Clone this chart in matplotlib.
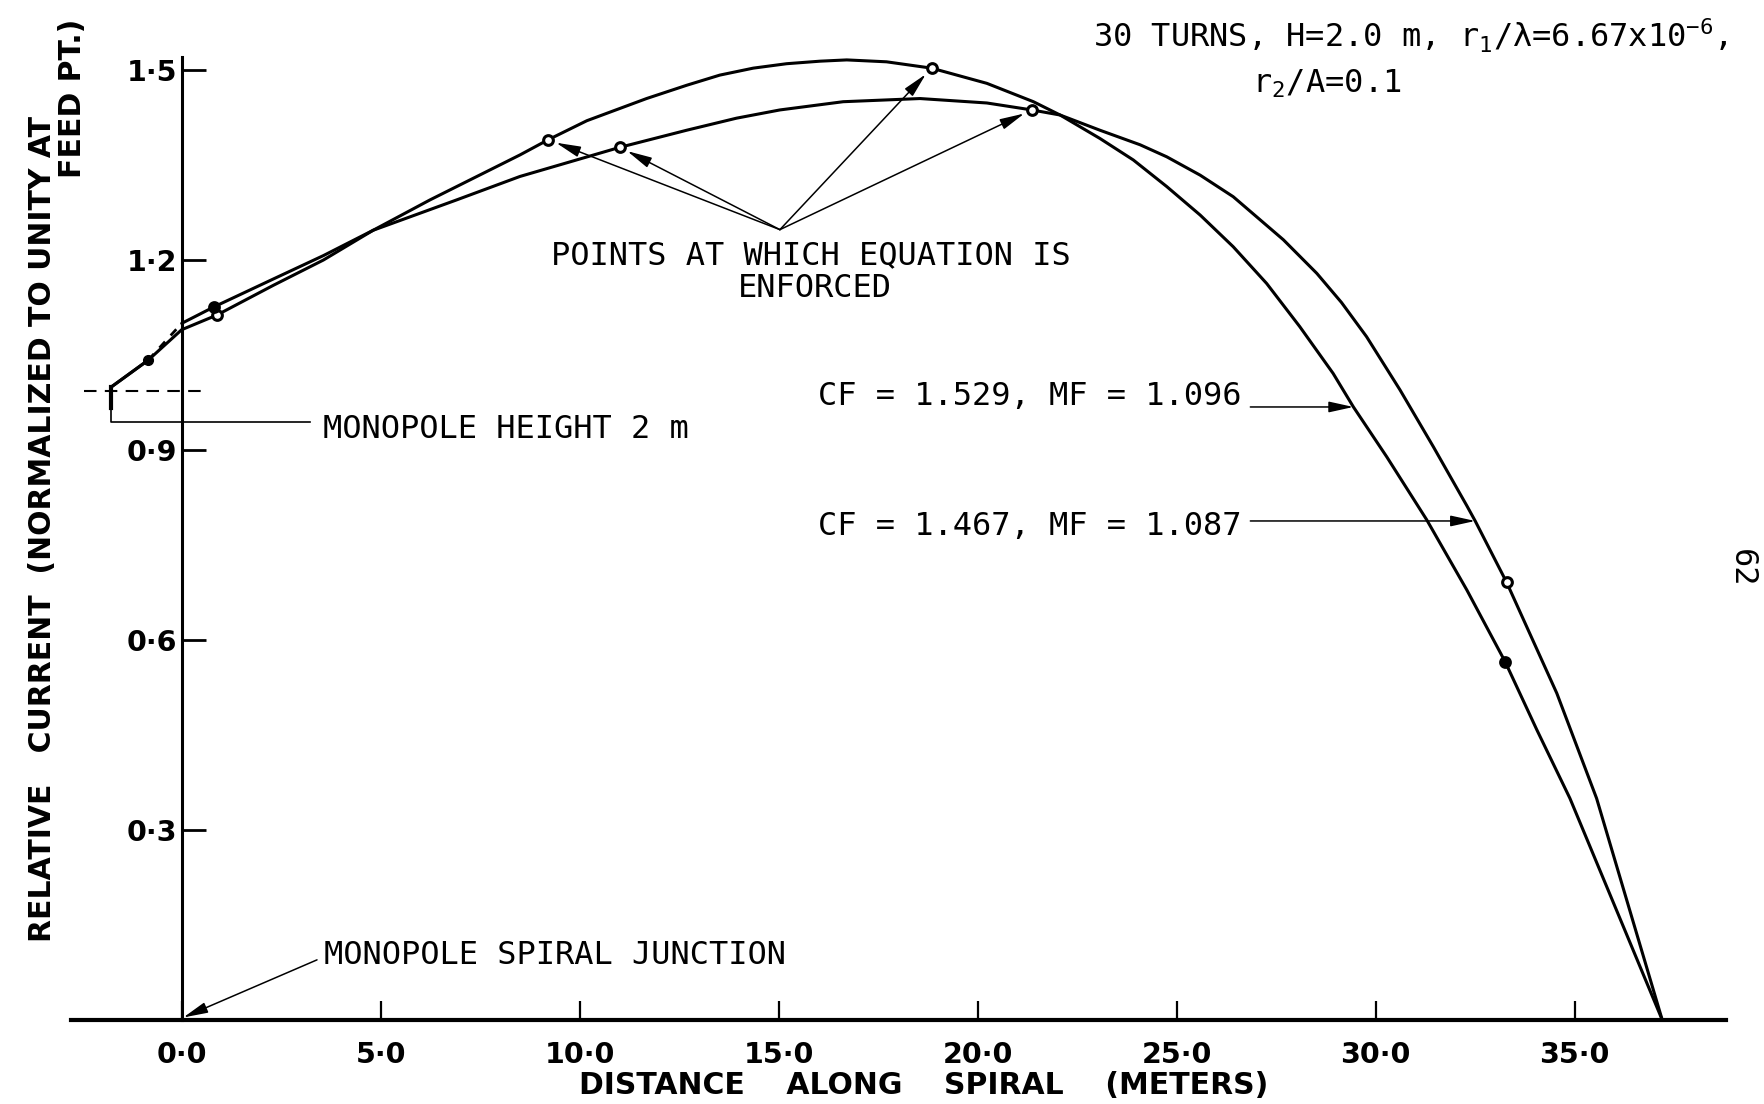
import matplotlib.pyplot as plt

plt.rcParams['mathtext.default'] = 'regular'

# current along the spiral, two solutions (distance in metres, current relative to feed point)
dist_a = [-1.76, -0.84, 0.0, 0.88, 2.3, 3.56, 4.81, 6.24, 8.5, 9.21, 10.18, 11.68, 12.69, 13.52,
          14.36, 15.2, 16.04, 16.71, 17.71, 18.84, 20.23, 21.4, 22.07, 23.07, 23.91, 24.75, 25.59,
          26.42, 27.26, 28.09, 28.93, 29.44, 29.77, 30.28, 31.28, 32.29, 33.25, 34.05, 34.88, 37.2]
cur_a = [1.0, 1.042, 1.09, 1.113, 1.16, 1.2, 1.247, 1.295, 1.366, 1.39, 1.42, 1.455, 1.476, 1.492,
         1.503, 1.51, 1.514, 1.516, 1.513, 1.503, 1.479, 1.45, 1.429, 1.392, 1.358, 1.316, 1.271,
         1.221, 1.163, 1.095, 1.021, 0.968, 0.937, 0.889, 0.79, 0.679, 0.566, 0.458, 0.35, 0.0]

dist_b = [-1.76, -0.84, 0.0, 0.81, 2.3, 3.56, 4.81, 6.91, 8.5, 11.01, 12.69, 13.94, 15.03, 16.62,
          18.55, 20.23, 21.36, 22.07, 23.07, 24.08, 24.75, 25.59, 26.42, 27.68, 28.52, 29.14, 29.77,
          30.61, 31.45, 32.29, 32.5, 33.29, 34.55, 35.55, 37.2]
cur_b = [1.0, 1.042, 1.10, 1.126, 1.17, 1.207, 1.247, 1.295, 1.332, 1.378, 1.405, 1.424, 1.437, 1.45,
         1.455, 1.448, 1.437, 1.429, 1.405, 1.382, 1.363, 1.334, 1.3, 1.232, 1.179, 1.133, 1.079,
         0.995, 0.905, 0.812, 0.788, 0.691, 0.516, 0.35, 0.0]

# indices of the matching points on each curve
match_a = [3, 9, 19, 36]
match_b = [3, 9, 16, 31]
open_a = [True, True, True, False]
open_b = [False, True, True, True]

xticks = [0, 5, 10, 15, 20, 25, 30, 35]
xticklabels = ['0·0', '5·0', '10·0', '15·0', '20·0', '25·0', '30·0', '35·0']
yticks = [0.3, 0.6, 0.9, 1.2, 1.5]
yticklabels = ['0·3', '0·6', '0·9', '1·2', '1·5']

label_a = 'CF = 1.529, MF = 1.096'
label_b = 'CF = 1.467, MF = 1.087'
tip_a = 31   # 29.44 m on curve a
tip_b = 30   # 32.5 m on curve b

mono = 'DejaVu Sans Mono'
tickfont = dict(family='DejaVu Sans', weight='bold', size=20.5)
bold = dict(family='DejaVu Sans', weight='bold', size=21.5)

fig = plt.figure(figsize=(17.64, 11.04), dpi=100)
ax = fig.add_axes([0, 0, 1, 1])
ax.set_xlim(-4.565, 39.756)
ax.set_ylim(-0.1326, 1.6106)

for s in ['top', 'right']:
    ax.spines[s].set_visible(False)
ax.spines['left'].set_position(('data', 0))
ax.spines['bottom'].set_position(('data', 0))
ax.spines['left'].set_bounds(0, 1.52)
ax.spines['bottom'].set_bounds(-2.77, 38.8)
ax.spines['left'].set_linewidth(2.2)
ax.spines['bottom'].set_linewidth(3.0)

ax.set_xticks(xticks)
ax.set_xticklabels(xticklabels, fontdict=tickfont)
ax.set_yticks(yticks)
ax.set_yticklabels(yticklabels, fontdict=tickfont)
ax.tick_params(axis='x', direction='in', length=14, width=1.6, pad=15)
ax.tick_params(axis='y', direction='in', length=17, width=2.0, pad=3)

# curves
ax.plot(dist_a, cur_a, color='black', lw=2.2, solid_capstyle='round', solid_joinstyle='round')
ax.plot(dist_b[:2], cur_b[:2], color='black', lw=2.2)
ax.plot(dist_b[1:3], cur_b[1:3], color='black', lw=2.0, ls=(0, (3, 3)))
ax.plot(dist_b[2:], cur_b[2:], color='black', lw=2.2, solid_capstyle='round', solid_joinstyle='round')

for dist, cur, idx, hollow in [(dist_a, cur_a, match_a, open_a), (dist_b, cur_b, match_b, open_b)]:
    for i, h in zip(idx, hollow):
        ax.plot(dist[i], cur[i], 'o', ms=7, mew=2.2, mec='black',
                mfc='white' if h else 'black', zorder=5)
ax.plot(dist_a[1], cur_a[1], 'o', ms=7, color='black', zorder=5)

# monopole section
ax.plot([-2.45, 0.55], [0.993, 0.993], color='black', lw=1.5, ls=(0, (6, 4)))
ax.plot([-1.78, -1.78], [1.0, 0.966], color='black', lw=3.0)
ax.plot([-1.78, -1.78, 3.22], [0.966, 0.945, 0.945], color='black', lw=1.2)
ax.text(3.55, 0.932, 'MONOPOLE HEIGHT 2 m', family=mono, size=23, ha='left', va='center')

arw = dict(arrowstyle='-|>,head_length=1.0,head_width=0.22', color='black', lw=1.1,
           mutation_scale=15, shrinkA=0, shrinkB=0)

ax.annotate('', xy=(0.04, 0.004), xytext=(3.40, 0.095), arrowprops=arw)
ax.text(3.57, 0.102, 'MONOPOLE SPIRAL JUNCTION', family=mono, size=23, ha='left', va='center')

# matching points
apex = (15.03, 1.248)
for dist, cur, idx in [(dist_a, cur_a, match_a[1:3]), (dist_b, cur_b, match_b[1:3])]:
    for i in idx:
        a = dict(arw, shrinkB=6)
        ax.annotate('', xy=(dist[i], cur[i]), xytext=apex, arrowprops=a)
ax.text(15.8, 1.207, 'POINTS AT WHICH EQUATION IS', family=mono, size=23, ha='center', va='center')
ax.text(15.9, 1.155, 'ENFORCED', family=mono, size=23, ha='center', va='center')

# curve labels
ax.text(15.99, 0.984, label_a, family=mono, size=23, ha='left', va='center')
ax.annotate('', xy=(dist_a[tip_a], cur_a[tip_a]), xytext=(26.85, cur_a[tip_a]), arrowprops=arw)
ax.text(15.99, 0.78, label_b, family=mono, size=23, ha='left', va='center')
ax.annotate('', xy=(dist_b[tip_b], cur_b[tip_b]), xytext=(26.85, cur_b[tip_b]), arrowprops=arw)

ax.text(22.9, 1.554, r'30 TURNS, H=2.0 m, r$_1$/λ=6.67x10$^{-6}$,', family=mono, size=23,
        ha='left', va='center')
ax.text(26.9, 1.478, r'r$_2$/A=0.1', family=mono, size=23, ha='left', va='center')

ax.text(39.18, 0.714, '62', family=mono, size=23, rotation=-90, ha='center', va='center')

# axis titles
ax.text(18.65, -0.104, 'DISTANCE    ALONG    SPIRAL    (METERS)', ha='center', va='center', **bold)
ax.text(-3.49, 0.776, 'RELATIVE   CURRENT  (NORMALIZED TO UNITY AT', rotation=90,
        ha='center', va='center', **bold)
ax.text(-2.74, 1.455, 'FEED PT.)', rotation=90, ha='center', va='center', **bold)

fig.savefig('out.png', dpi=100)
